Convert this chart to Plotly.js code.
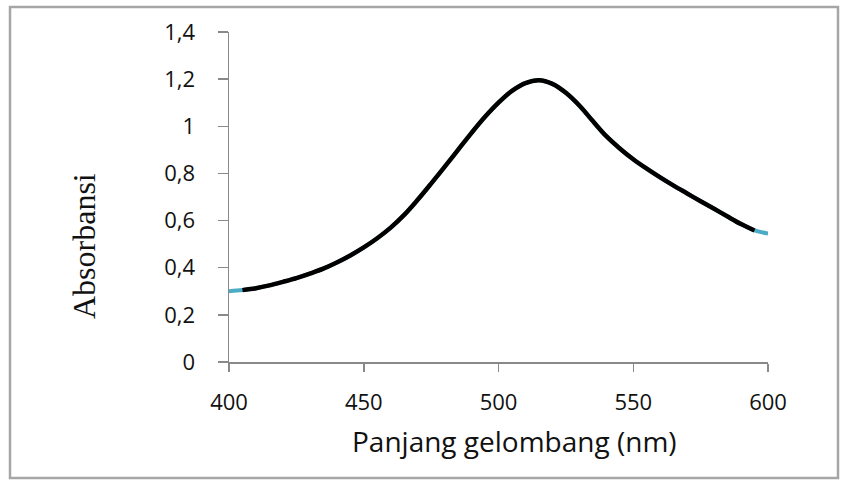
<!DOCTYPE html>
<html>
<head>
<meta charset="utf-8">
<script src="https://cdn.plot.ly/plotly-3.0.1.min.js"></script>
<style>
  html, body { margin: 0; padding: 0; background: #ffffff; }
  #chart { width: 841px; height: 480px; }
</style>
</head>
<body>
<div id="chart"></div>
<script>
// Wavelength (nm)
const wavelength = [400,405,410,415,420,425,430,435,440,445,450,455,460,465,470,475,480,485,490,495,500,
                    505,510,515,520,525,530,535,540,545,550,555,560,565,570,575,580,585,590,595,600];
// Absorbance
const absorbance = [0.300,0.305,0.313,0.325,0.340,0.356,0.375,0.396,0.422,0.452,0.486,0.525,0.570,0.624,0.688,0.757,0.828,0.900,0.972,1.040,1.100,
                    1.150,1.183,1.195,1.180,1.142,1.088,1.022,0.958,0.906,0.860,0.820,0.783,0.748,0.715,0.682,0.650,0.617,0.585,0.558,0.545];
// Tick labels
const yTickVals = [0, 0.2, 0.4, 0.6, 0.8, 1, 1.2, 1.4];
const yTickText = ["0", "0,2", "0,4", "0,6", "0,8", "1", "1,2", "1,4"];
const xTickVals = [400, 450, 500, 550, 600];
const xTickText = ["400", "450", "500", "550", "600"];
const xTitle = "Panjang gelombang (nm)";
const yTitle = "Absorbansi";

const traces = [
  {
    x: wavelength, y: absorbance, type: "scatter", mode: "lines",
    line: { color: "#4bacc6", width: 4, shape: "spline", smoothing: 1 },
    hoverinfo: "skip", showlegend: false
  },
  {
    x: wavelength.slice(1, wavelength.length - 1),
    y: absorbance.slice(1, absorbance.length - 1),
    type: "scatter", mode: "lines",
    line: { color: "#000000", width: 4.5, shape: "spline", smoothing: 1 },
    hoverinfo: "skip", showlegend: false
  }
];

const axisGrey = "#898989";
const layout = {
  width: 841, height: 480,
  margin: { l: 229, r: 73, t: 32, b: 118, pad: 0 },
  paper_bgcolor: "#ffffff", plot_bgcolor: "#ffffff",
  showlegend: false,
  xaxis: {
    range: [400, 600], tickmode: "array", tickvals: xTickVals, ticktext: xTickText,
    showgrid: false, zeroline: false, showline: true, linecolor: axisGrey, linewidth: 1.5,
    ticks: "outside", ticklen: 8, tickwidth: 1.5, tickcolor: axisGrey,
    ticklabelstandoff: 12,
    tickfont: { family: "Open Sans, sans-serif", size: 22, color: "#111111" },
    fixedrange: true
  },
  yaxis: {
    range: [0, 1.4], tickmode: "array", tickvals: yTickVals, ticktext: yTickText,
    showgrid: false, zeroline: false, showline: true, linecolor: axisGrey, linewidth: 1.5,
    ticks: "outside", ticklen: 10, tickwidth: 1.5, tickcolor: axisGrey,
    ticklabelstandoff: 18,
    tickfont: { family: "Open Sans, sans-serif", size: 22, color: "#111111" },
    fixedrange: true
  },
  annotations: [
    {
      text: xTitle, xref: "paper", yref: "paper",
      x: (514 - 229) / 539, y: (362 - 441) / 330,
      xanchor: "center", yanchor: "middle", showarrow: false,
      font: { family: "Open Sans, sans-serif", size: 28, color: "#111111" }
    },
    {
      text: yTitle, xref: "paper", yref: "paper",
      x: (84 - 229) / 539, y: (362 - 246) / 330,
      xanchor: "center", yanchor: "middle", showarrow: false, textangle: -90,
      font: { family: "Liberation Serif, Times New Roman, serif", size: 32, color: "#111111" }
    }
  ],
  shapes: [
    {
      type: "rect", xref: "paper", yref: "paper",
      x0: (10 - 229) / 539, x1: (838 - 229) / 539,
      y0: (362 - 478) / 330, y1: (362 - 7) / 330,
      line: { color: "#a6a6a6", width: 2.5 }, fillcolor: "rgba(0,0,0,0)", layer: "below"
    }
  ]
};

Plotly.newPlot("chart", traces, layout, { displayModeBar: false, staticPlot: true });
</script>
</body>
</html>
